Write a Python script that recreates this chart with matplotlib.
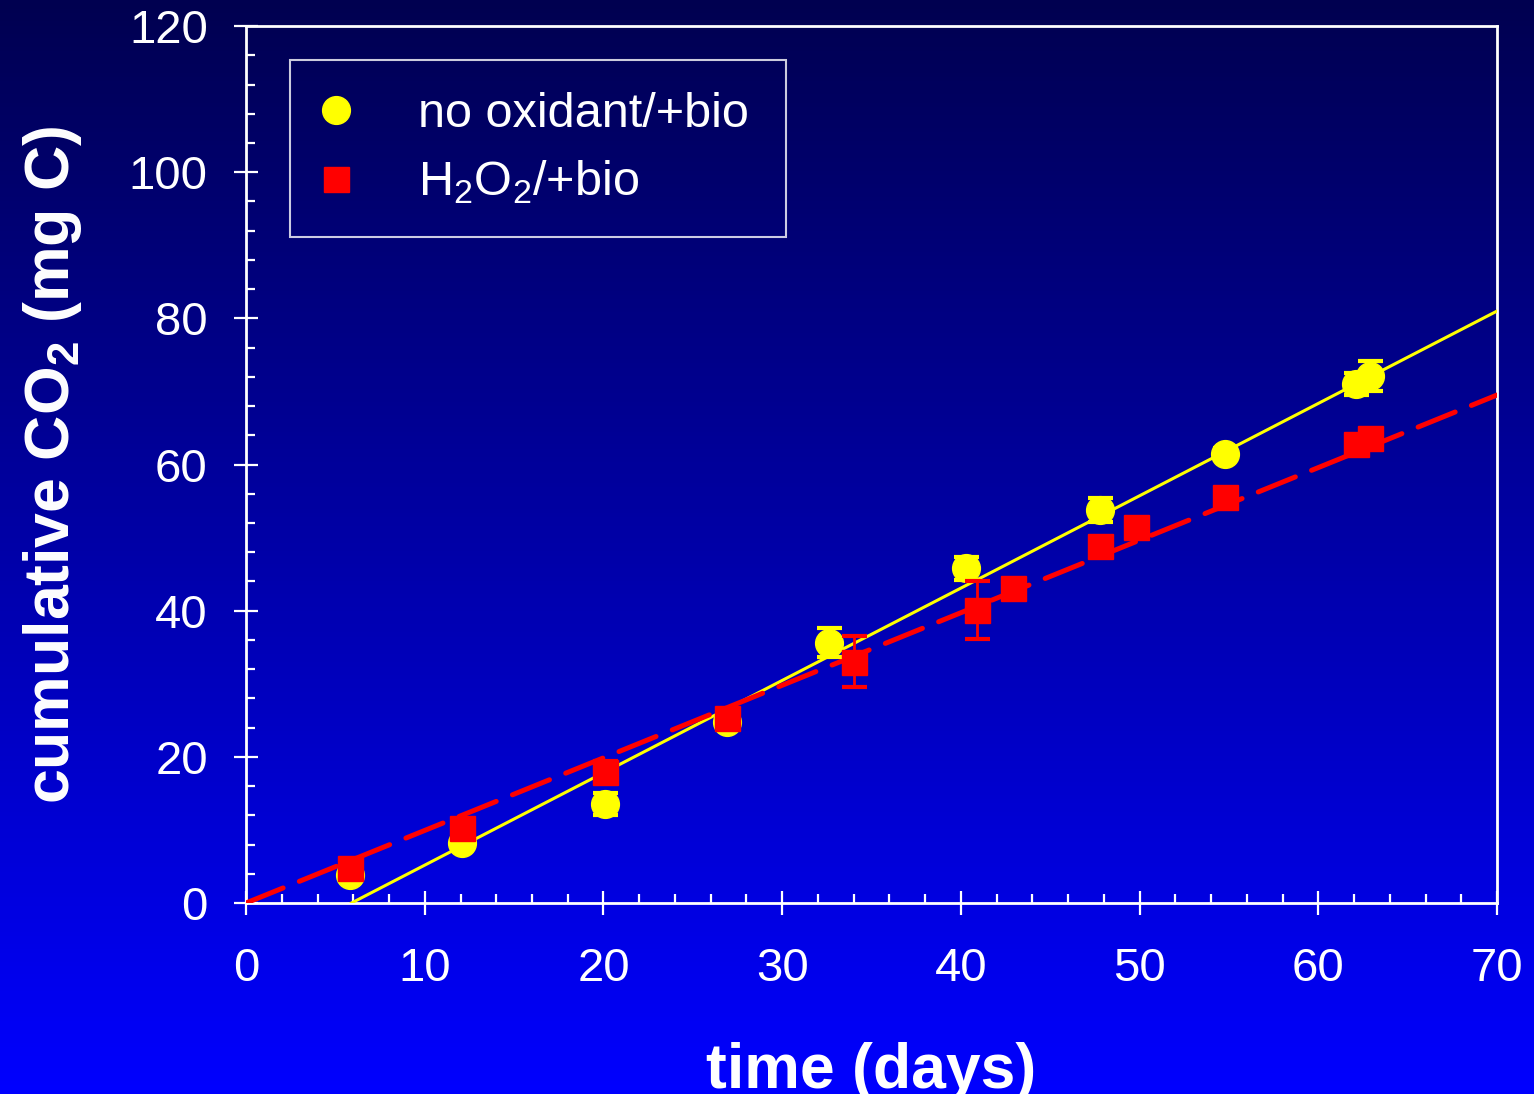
import matplotlib
matplotlib.use('agg')
import numpy as np
import matplotlib.pyplot as plt
from matplotlib.colors import LinearSegmentedColormap

plt.rcParams['font.family'] = ['Liberation Sans', 'DejaVu Sans']
plt.rcParams['mathtext.fontset'] = 'custom'
plt.rcParams['mathtext.rm'] = 'Liberation Sans'
plt.rcParams['mathtext.bf'] = 'Liberation Sans:bold'

# no oxidant / +bio
days_bio = [5.8, 12.1, 20.1, 26.9, 32.6, 40.3, 47.8, 54.8, 62.1, 62.9]
co2_bio = [3.8, 8.2, 13.5, 24.8, 35.6, 45.8, 53.8, 61.4, 71.0, 72.1]
err_bio = [0.8, 0.8, 1.5, 0.8, 2.0, 1.6, 1.6, 0.8, 1.5, 2.0]

# H2O2 / +bio
days_h2o2 = [5.8, 12.1, 20.1, 26.9, 34.0, 40.9, 42.9, 47.8, 49.8, 54.8, 62.1, 62.9]
co2_h2o2 = [4.8, 10.3, 17.9, 25.3, 33.0, 40.1, 43.1, 48.8, 51.4, 55.5, 62.8, 63.6]
err_h2o2 = [0.8, 0.8, 1.5, 0.8, 3.5, 4.0, 0.8, 1.0, 0.8, 0.8, 1.2, 1.0]

# linear fits (slope, intercept, x range)
fit_bio = (1.2636, -7.455, 5.9, 70.0)
fit_h2o2 = (0.993, 0.0, 0.0, 70.0)

fig = plt.figure(figsize=(15.34, 10.94), dpi=100)

# gradient background
bg = fig.add_axes([0, 0, 1, 1], zorder=-10)
cmap = LinearSegmentedColormap.from_list('bg', ['#000050', '#0000ff'])
bg.imshow(np.linspace(0, 1, 256).reshape(-1, 1), aspect='auto', cmap=cmap,
          extent=[0, 1, 0, 1], origin='upper')
bg.axis('off')

ax = fig.add_axes([0.1604, 0.1746, 0.8155, 0.8016])
ax.patch.set_alpha(0)

xs = np.array(fit_bio[2:])
ax.plot(xs, fit_bio[0] * xs + fit_bio[1], color='#ffff00', lw=2.2, zorder=3)
xs = np.array(fit_h2o2[2:])
ax.plot(xs, fit_h2o2[0] * xs + fit_h2o2[1], color='#ff0000', lw=3.6,
        dashes=(8, 3.5), dash_capstyle='round', zorder=3)

ax.errorbar(days_bio, co2_bio, yerr=err_bio, fmt='o', color='#ffff00', ms=20,
            mec='#ffff00', ecolor='#ffff00', elinewidth=2, capsize=9, capthick=3,
            label='no oxidant/+bio', zorder=4)
ax.errorbar(days_h2o2, co2_h2o2, yerr=err_h2o2, fmt='s', color='#ff0000', ms=18,
            mec='#ff0000', ecolor='#ff0000', elinewidth=2, capsize=9, capthick=3,
            label=r'H$_2$O$_2$/+bio', zorder=5)

ax.set_xlim(0, 70)
ax.set_ylim(0, 120)
ax.set_xticks(np.arange(0, 71, 10))
ax.set_yticks(np.arange(0, 121, 20))
ax.set_xticks(np.arange(0, 71, 2), minor=True)
ax.set_yticks(np.arange(0, 121, 4), minor=True)
ax.tick_params(which='major', direction='inout', length=17, width=1.6,
               colors='white', labelsize=34)
ax.tick_params(which='minor', direction='in', length=6.5, width=1.6, colors='white')
ax.tick_params(axis='x', which='major', pad=23)
ax.tick_params(axis='y', which='major', pad=19)
for s in ax.spines.values():
    s.set_color('white')
    s.set_linewidth(2)

ax.set_xlabel('time (days)', fontsize=45, fontweight='bold', color='white', labelpad=37)
ax.set_ylabel(r'cumulative CO$_\mathbf{2}$ (mg C)', fontsize=45, fontweight='bold',
              color='white', labelpad=32)

handles, labels = ax.get_legend_handles_labels()
handles = [h[0] for h in handles]
lgd = ax.legend(handles, labels, loc='upper left', bbox_to_anchor=(0.0352, 0.961, 0.3965, 0.0),
                mode='expand', borderaxespad=0, frameon=True, fancybox=False,
                fontsize=35, labelcolor='white', handletextpad=1.38, borderpad=0.65,
                labelspacing=0.45, handlelength=0.6)
lgd.get_frame().set_facecolor('none')
lgd.get_frame().set_edgecolor('white')
lgd.get_frame().set_linewidth(1.5)

fig.savefig('out.png', dpi=100)
